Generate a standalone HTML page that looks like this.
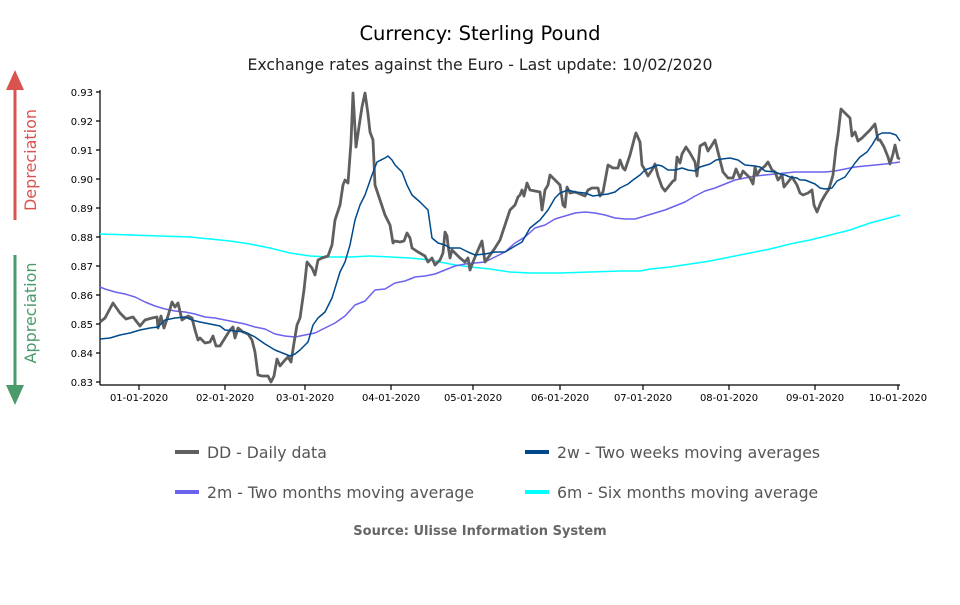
<!DOCTYPE html>
<html><head><meta charset="utf-8"><style>
body{margin:0;background:#fff}
svg text{font-family:"DejaVu Sans","Liberation Sans",sans-serif}
</style></head><body>
<svg width="960" height="600" viewBox="0 0 960 600" xmlns="http://www.w3.org/2000/svg">
<rect width="960" height="600" fill="#fff"/>
<text x="480" y="40" font-size="19.5" text-anchor="middle" fill="#000">Currency: Sterling Pound</text>
<text x="480" y="70" font-size="15.7" text-anchor="middle" fill="#222">Exchange rates against the Euro - Last update: 10/02/2020</text>
<line x1="15" y1="84" x2="15" y2="220" stroke="#d9534f" stroke-width="3"/>
<polygon points="6,90 24,90 15,70" fill="#d9534f"/>
<text transform="translate(36,160) rotate(-90)" font-size="16" fill="#d9534f" text-anchor="middle">Depreciation</text>
<line x1="15" y1="255" x2="15" y2="392" stroke="#4a9a6a" stroke-width="3"/>
<polygon points="6,385 24,385 15,405" fill="#4a9a6a"/>
<text transform="translate(36,313) rotate(-90)" font-size="16" fill="#4a9a6a" text-anchor="middle">Appreciation</text>
<g stroke="#000" stroke-width="1.2" fill="none">
<line x1="100" y1="90" x2="100" y2="385"/>
<line x1="100" y1="385" x2="900" y2="385"/>
<path d="M96,92H100M96,121H100M96,150H100M96,179H100M96,208H100M96,237H100M96,266H100M96,295H100M96,324H100M96,353H100M96,382H100"/>
<path d="M139,385V390M225,385V390M305,385V390M391,385V390M473,385V390M560,385V390M643,385V390M729,385V390M815,385V390M898,385V390"/>
</g>
<g font-size="10" fill="#000" text-anchor="end">
<text x="93" y="96">0.93</text><text x="93" y="125">0.92</text><text x="93" y="154">0.91</text><text x="93" y="183">0.90</text><text x="93" y="212">0.89</text><text x="93" y="241">0.88</text><text x="93" y="270">0.87</text><text x="93" y="299">0.86</text><text x="93" y="328">0.85</text><text x="93" y="357">0.84</text><text x="93" y="386">0.83</text>
</g>
<g font-size="10" fill="#000" text-anchor="middle">
<text x="139" y="401">01-01-2020</text><text x="225" y="401">02-01-2020</text><text x="305" y="401">03-01-2020</text><text x="391" y="401">04-01-2020</text><text x="473" y="401">05-01-2020</text><text x="560" y="401">06-01-2020</text><text x="643" y="401">07-01-2020</text><text x="729" y="401">08-01-2020</text><text x="815" y="401">09-01-2020</text><text x="898" y="401">10-01-2020</text>
</g>
<g fill="none" stroke-linejoin="round">
<polyline stroke="#00ffff" stroke-width="1.5" points="100,234 130,235 160,236 190,237 210,239 230,241 250,244 270,248 290,253 310,256 330,257 350,257 370,256 390,257 410,258 430,260 450,264 470,267 490,269 510,272 530,273 560,273 590,272 620,271 640,271 650,269 670,267 690,264 710,261 730,257 750,253 770,249 790,244 810,240 830,235 850,230 870,223 900,215"/>
<polyline stroke="#6b62ee" stroke-width="1.5" points="100,287 105,289 115,292 125,294 135,297 145,302 155,306 165,309 175,311 185,312 195,314 205,317 215,318 225,320 235,322 245,324 255,327 265,329 275,334 285,336 295,337 305,335 315,333 325,328 335,323 345,316 355,305 365,301 375,290 385,289 395,283 405,281 415,277 425,276 435,274 445,270 455,266 465,264 475,263 485,262 495,257 505,252 515,243 525,237 535,228 545,225 555,219 565,216 575,213 585,212 595,213 605,215 615,218 625,219 635,219 645,216 655,213 665,210 675,206 685,202 695,196 705,191 715,188 725,184 735,180 745,178 755,176 765,175 775,174 785,173 795,172 805,172 815,172 825,172 835,171 845,169 855,167 865,166 875,165 885,164 900,162"/>
<polyline stroke="#5f5f5f" stroke-width="2.8" points="100,322 105,318 113,303 120,313 126,319 133,317 140,326 145,320 152,318 157,317 158,328 161,316 164,328 168,316 172,302 175,307 178,303 182,320 188,316 192,318 195,330 198,340 200,338 205,343 210,342 213,336 216,346 220,346 225,338 230,330 233,327 235,338 238,328 243,332 248,334 252,340 255,352 258,375 262,376 268,376 271,382 274,376 277,359 280,366 285,360 288,357 291,362 294,343 297,325 300,318 304,290 307,262 312,268 315,275 318,260 322,258 328,256 332,245 335,220 340,205 343,185 345,180 348,183 351,142 353,93 356,147 360,120 362,107 365,93 368,114 370,132 373,140 375,185 380,200 385,215 390,225 393,243 395,241 400,242 404,241 407,233 410,238 412,248 418,252 425,256 428,262 432,258 435,265 440,260 443,253 445,232 447,236 448,245 450,258 452,250 457,255 460,258 465,262 468,258 470,270 473,262 478,250 482,241 485,262 490,255 495,248 500,240 505,225 510,210 515,205 518,197 520,195 522,190 524,196 527,183 530,190 535,191 540,192 542,210 545,190 548,185 550,175 555,180 560,185 563,205 565,207 567,187 570,193 575,192 580,194 585,196 588,190 592,188 598,188 600,196 603,192 608,165 613,168 618,168 620,160 623,168 625,170 630,155 635,136 636,133 640,142 642,165 645,170 648,176 652,170 655,164 658,176 662,187 665,191 669,186 673,181 675,180 677,157 680,163 682,154 686,147 690,153 695,162 697,176 700,146 705,143 708,151 712,145 715,140 720,160 723,172 728,178 733,178 736,169 740,178 743,171 746,174 750,178 753,184 755,167 757,175 760,170 765,166 768,162 772,170 775,172 778,180 782,175 784,187 788,182 792,177 797,185 800,193 803,195 808,193 812,190 814,205 817,212 821,202 825,195 829,189 833,175 836,148 838,135 841,109 845,113 850,118 852,136 855,132 858,141 862,138 866,134 870,130 875,124 878,140 880,140 884,147 888,157 890,164 893,154 895,145 898,158 900,159"/>
<polyline stroke="#004a8c" stroke-width="1.5" points="100,339 110,338 120,335 130,333 140,330 150,328 158,327 165,320 175,318 185,317 192,320 200,322 210,324 220,326 225,330 235,331 245,332 255,337 265,344 275,350 285,354 290,356 295,354 300,350 308,342 313,325 318,318 325,312 332,298 340,272 345,262 350,245 355,220 360,205 365,195 372,175 377,162 385,158 388,156 392,160 395,165 402,172 407,185 412,195 420,202 428,210 432,238 438,243 445,245 450,248 460,248 468,252 475,255 485,254 495,252 505,252 515,246 522,242 530,228 540,220 548,210 555,198 560,193 568,190 575,192 585,193 593,196 600,195 608,194 615,192 620,188 628,184 633,180 640,175 645,170 653,167 658,165 662,166 668,170 675,170 682,168 688,170 695,171 700,167 710,164 716,160 722,159 730,158 738,160 745,165 755,166 760,167 765,171 775,172 780,174 785,175 790,177 797,178 800,180 805,180 810,182 815,184 820,188 825,189 832,188 837,181 845,177 850,170 855,163 860,157 867,152 872,145 878,135 882,133 890,133 896,135 900,141"/>
</g>
<line x1="175" y1="452" x2="199" y2="452" stroke="#5f5f5f" stroke-width="4"/>
<text x="207" y="458" font-size="15.7" fill="#555">DD - Daily data</text>
<line x1="525" y1="452" x2="549" y2="452" stroke="#004a8c" stroke-width="4"/>
<text x="557" y="458" font-size="15.7" fill="#555">2w - Two weeks moving averages</text>
<line x1="175" y1="492" x2="199" y2="492" stroke="#6b62ee" stroke-width="4"/>
<text x="207" y="498" font-size="15.7" fill="#555">2m - Two months moving average</text>
<line x1="525" y1="492" x2="549" y2="492" stroke="#00ffff" stroke-width="4"/>
<text x="557" y="498" font-size="15.7" fill="#555">6m - Six months moving average</text>
<text x="480" y="535" font-size="13" font-weight="bold" fill="#666" text-anchor="middle">Source: Ulisse Information System</text>
</svg>
</body></html>
